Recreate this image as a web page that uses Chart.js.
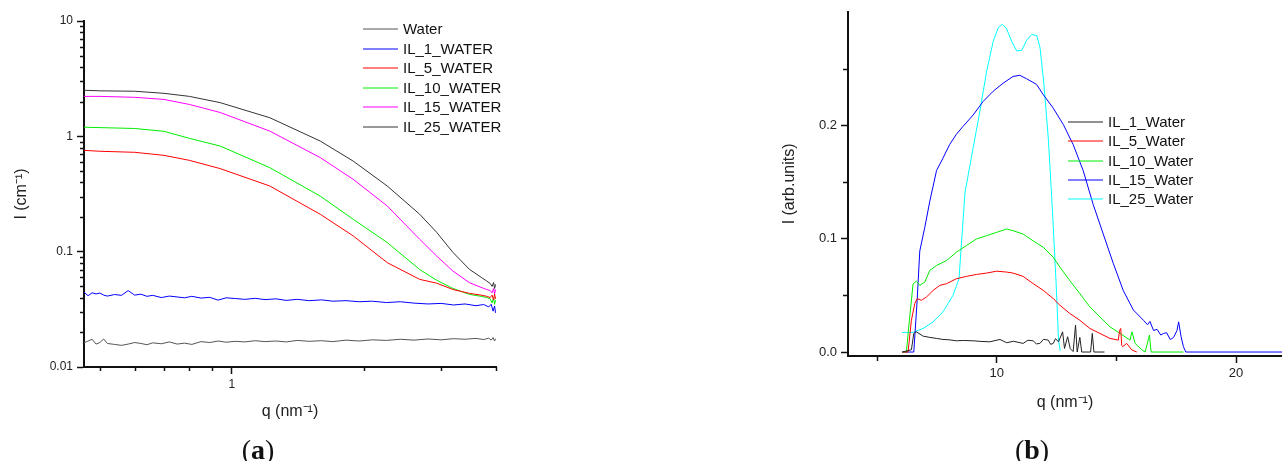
<!DOCTYPE html>
<html>
<head>
<meta charset="utf-8">
<script src="https://cdn.jsdelivr.net/npm/chart.js@4.4.1/dist/chart.umd.min.js"></script>
<style>
  body { margin: 0; width: 1282px; height: 461px; background: #fff; position: relative; overflow: hidden; }
  #boxA { position: absolute; left: 0; top: 0; }
  #boxB { position: absolute; left: 760px; top: 0; }
  .cap { position: absolute; top: 436px; width: 60px; text-align: center; font-family: 'Liberation Serif', 'Times New Roman', serif; font-size: 28px; line-height: 1; color: #111; }
  .cap b { font-weight: bold; }
</style>
</head>
<body>
<div id="boxA"><canvas id="saxsChart" width="520" height="461"></canvas></div>
<div id="boxB"><canvas id="waxsChart" width="522" height="461"></canvas></div>
<div class="cap" style="left:228px">(<b>a</b>)</div>
<div class="cap" style="left:1002px">(<b>b</b>)</div>
<script>
// ---- (a) SAXS, log-log ----
const qSaxs = [0.46, 0.5, 0.6, 0.7, 0.8, 0.94, 1.22, 1.59, 1.89, 2.26, 2.68, 2.93, 3.19, 3.48, 3.7, 3.81, 3.88, 3.92, 3.95, 3.97, 3.99];
const il25Saxs = [2.51, 2.48, 2.46, 2.36, 2.22, 1.96, 1.45, 0.91, 0.61, 0.371, 0.211, 0.147, 0.0986, 0.0702, 0.060, 0.0556, 0.053, 0.050, 0.054, 0.048, 0.052];
const il15Saxs = [2.22, 2.22, 2.18, 2.09, 1.89, 1.61, 1.11, 0.654, 0.424, 0.249, 0.128, 0.0916, 0.0679, 0.0538, 0.049, 0.047, 0.046, 0.044, 0.048, 0.043, 0.047];
const il10Saxs = [1.20, 1.19, 1.17, 1.105, 0.961, 0.824, 0.535, 0.303, 0.191, 0.120, 0.070, 0.0565, 0.048, 0.0426, 0.041, 0.040, 0.039, 0.036, 0.040, 0.035, 0.038];
const il5Saxs = [0.756, 0.742, 0.727, 0.684, 0.619, 0.525, 0.371, 0.211, 0.137, 0.0803, 0.0575, 0.0533, 0.047, 0.0435, 0.042, 0.041, 0.040, 0.042, 0.038, 0.043, 0.039];

const qFlat = [0.46, 0.47, 0.48, 0.49, 0.5, 0.51, 0.52, 0.54, 0.56, 0.58, 0.6, 0.62, 0.64, 0.66, 0.69, 0.72, 0.75, 0.78, 0.81, 0.85, 0.89, 0.93, 0.97, 1.02, 1.07, 1.13, 1.19, 1.26, 1.33, 1.41, 1.5, 1.6, 1.7, 1.82, 1.95, 2.09, 2.25, 2.42, 2.6, 2.8, 3.0, 3.2, 3.4, 3.6, 3.75, 3.85, 3.9, 3.94, 3.97, 3.99];
const il1Saxs = [0.0445, 0.0415, 0.0440, 0.0430, 0.0438, 0.0420, 0.0412, 0.0425, 0.0418, 0.0460, 0.0420, 0.0428, 0.0410, 0.0418, 0.0400, 0.0412, 0.0405, 0.0398, 0.0410, 0.0396, 0.0402, 0.0380, 0.0398, 0.0392, 0.0386, 0.0394, 0.0384, 0.0390, 0.0378, 0.0386, 0.0376, 0.0382, 0.0372, 0.0376, 0.0368, 0.0372, 0.0362, 0.0368, 0.0358, 0.0352, 0.0356, 0.0345, 0.0352, 0.0340, 0.0348, 0.0332, 0.0350, 0.0305, 0.0338, 0.0295];
const waterSaxs = [0.0162, 0.0168, 0.0174, 0.0158, 0.0163, 0.0175, 0.0160, 0.0157, 0.0154, 0.0158, 0.0163, 0.0160, 0.0156, 0.0162, 0.0159, 0.0165, 0.0158, 0.0161, 0.0157, 0.0166, 0.0163, 0.0168, 0.0164, 0.0167, 0.0165, 0.0169, 0.0166, 0.0168, 0.0165, 0.0170, 0.0167, 0.0169, 0.0166, 0.0171, 0.0168, 0.0172, 0.0170, 0.0174, 0.0171, 0.0175, 0.0172, 0.0176, 0.0174, 0.0177, 0.0173, 0.0178, 0.0171, 0.0180, 0.0168, 0.0176];

const saxsXMajor = [1];
const saxsXMinor = [0.5, 0.6, 0.7, 0.8, 0.9, 2, 3, 4];
const saxsYMajor = [0.01, 0.1, 1, 10];
const saxsYMinor = [0.02, 0.03, 0.04, 0.05, 0.06, 0.07, 0.08, 0.09, 0.2, 0.3, 0.4, 0.5, 0.6, 0.7, 0.8, 0.9, 2, 3, 4, 5, 6, 7, 8, 9];

// ---- (b) WAXS, linear ----
const qIl1W = [6.05, 6.43, 6.53, 6.64, 6.92, 7.2, 7.48, 7.75, 8.0, 8.31, 8.6, 9.01, 9.3, 9.71, 10.13, 10.41, 10.7, 11.1, 11.3, 11.52, 11.65, 11.8, 11.95, 12.15, 12.25, 12.36, 12.45, 12.58, 12.75, 12.83, 12.96, 13.07, 13.19, 13.29, 13.36, 13.47, 13.55, 13.92, 13.99, 14.06, 14.5];
const il1W = [0, 0.002, 0.0164, 0.0178, 0.014, 0.0129, 0.012, 0.0111, 0.0108, 0.0099, 0.0102, 0.0099, 0.0094, 0.009, 0.0111, 0.0082, 0.0095, 0.0076, 0.0104, 0.0099, 0.0072, 0.0076, 0.0112, 0.0105, 0.0068, 0.0076, 0.0118, 0.009, 0.0178, 0.0032, 0.0135, 0.003, 0.0004, 0.0237, 0, 0.0129, 0, 0, 0.0164, 0, 0];
const qIl5W = [6.05, 6.29, 6.43, 6.57, 6.67, 6.85, 7.06, 7.34, 7.62, 7.9, 8.31, 8.73, 9.15, 9.57, 9.99, 10.41, 10.68, 11.1, 11.52, 11.94, 12.36, 12.64, 13.05, 13.47, 13.89, 14.31, 14.73, 15.08, 15.13, 15.18, 15.22, 15.26, 15.43, 15.64, 15.85];
const il5W = [0, 0, 0.028, 0.0427, 0.0471, 0.0456, 0.0485, 0.0544, 0.0588, 0.0603, 0.0646, 0.0667, 0.0684, 0.0696, 0.0713, 0.0705, 0.0696, 0.0667, 0.0603, 0.0544, 0.0471, 0.0412, 0.034, 0.028, 0.0208, 0.0164, 0.012, 0.0105, 0.019, 0.0208, 0.006, 0.0047, 0.0076, 0.0018, 0];
const qIl10W = [6.05, 6.22, 6.36, 6.5, 6.64, 6.78, 6.99, 7.2, 7.48, 7.9, 8.31, 8.73, 9.15, 9.57, 9.99, 10.41, 10.68, 11.1, 11.52, 11.94, 12.36, 12.64, 13.05, 13.47, 13.89, 14.31, 14.73, 15.15, 15.57, 15.65, 15.78, 16.06, 16.2, 16.38, 16.45, 17.8];
const il10W = [0, 0, 0.031, 0.060, 0.0626, 0.0588, 0.0617, 0.072, 0.0763, 0.0807, 0.088, 0.0939, 0.0997, 0.1026, 0.1055, 0.1085, 0.107, 0.104, 0.098, 0.0924, 0.0836, 0.0748, 0.063, 0.0515, 0.0398, 0.031, 0.0222, 0.0164, 0.0105, 0.0178, 0.0076, 0.002, 0, 0.015, 0, 0];
const qIl15W = [6.05, 6.53, 6.67, 6.78, 6.99, 7.2, 7.48, 7.75, 8.03, 8.31, 8.59, 9.01, 9.43, 9.85, 10.26, 10.68, 10.96, 11.24, 11.66, 11.94, 12.36, 12.78, 13.19, 13.61, 14.03, 14.45, 14.87, 15.29, 15.71, 16.13, 16.3, 16.4, 16.55, 16.7, 16.85, 16.97, 17.1, 17.25, 17.39, 17.53, 17.6, 17.7, 17.8, 17.9, 18.0, 20, 22];
const il15W = [0, 0, 0.0456, 0.089, 0.110, 0.133, 0.160, 0.171, 0.183, 0.192, 0.199, 0.209, 0.221, 0.230, 0.237, 0.243, 0.244, 0.241, 0.236, 0.227, 0.215, 0.2006, 0.183, 0.160, 0.130, 0.104, 0.078, 0.054, 0.037, 0.028, 0.024, 0.027, 0.019, 0.020, 0.015, 0.0164, 0.017, 0.011, 0.0129, 0.019, 0.0266, 0.0137, 0.0047, 0, 0, 0, 0];
const qIl25W = [6.05, 6.5, 6.92, 7.34, 7.75, 8.17, 8.42, 8.67, 9.01, 9.29, 9.57, 9.85, 10.06, 10.23, 10.41, 10.62, 10.83, 11.04, 11.25, 11.46, 11.67, 11.81, 11.97, 12.16, 12.34, 12.48, 12.58, 12.65];
const il25W = [0.0173, 0.0173, 0.0208, 0.0266, 0.0354, 0.050, 0.0646, 0.1406, 0.180, 0.212, 0.247, 0.274, 0.286, 0.289, 0.285, 0.274, 0.2655, 0.266, 0.275, 0.280, 0.279, 0.268, 0.236, 0.186, 0.119, 0.060, 0.0105, 0.001];

const waxsXMajor = [10, 20];
const waxsXMinor = [5, 15];
const waxsYMajor = [0, 0.1, 0.2];
const waxsYMinor = [0.05, 0.15, 0.25];

Chart.defaults.font.family = "'Liberation Sans', Arial, sans-serif";
Chart.defaults.color = '#222';

function pts(xs, ys) {
  return xs.map((x, i) => ({ x: x, y: ys[i] }));
}

function line(label, xs, ys, color) {
  return { label: label, data: pts(xs, ys), borderColor: color, borderWidth: 1, pointRadius: 0, tension: 0, fill: false };
}

// short unlabeled ticks
function minorTicks(lists, len) {
  return {
    id: 'minorTicks',
    afterDraw(chart) {
      const ctx = chart.ctx;
      ctx.save();
      ctx.strokeStyle = '#111';
      ctx.lineWidth = 1.5;
      Object.keys(lists).forEach(id => {
        const s = chart.scales[id];
        lists[id].forEach(v => {
          const p = Math.round(s.getPixelForValue(v)) + 0.5;
          ctx.beginPath();
          if (s.isHorizontal()) { ctx.moveTo(p, s.top); ctx.lineTo(p, s.top + len); }
          else { ctx.moveTo(s.right, p); ctx.lineTo(s.right - len, p); }
          ctx.stroke();
        });
      });
      ctx.restore();
    }
  };
}

// legend drawn inside the plot
function keyBox(x, y, step) {
  return {
    id: 'keyBox',
    afterDraw(chart) {
      const ctx = chart.ctx;
      ctx.save();
      ctx.font = "15px 'Liberation Sans', Arial, sans-serif";
      ctx.textBaseline = 'middle';
      chart.data.datasets.forEach((ds, i) => {
        const yy = Math.round(y + i * step);
        ctx.strokeStyle = ds.borderColor;
        ctx.lineWidth = 1;
        ctx.beginPath();
        ctx.moveTo(x, yy);
        ctx.lineTo(x + 35, yy);
        ctx.stroke();
        ctx.fillStyle = '#111';
        ctx.fillText(ds.label, x + 40, yy + 0.5);
      });
      ctx.restore();
    }
  };
}

function axis(extra) {
  return Object.assign({
    grid: { drawOnChartArea: false, tickLength: 7, tickWidth: 1.5, tickColor: '#111' },
    border: { color: '#111', width: 2 }
  }, extra);
}

new Chart(document.getElementById('saxsChart'), {
  type: 'line',
  data: {
    datasets: [
      line('Water', qFlat, waterSaxs, '#555555'),
      line('IL_1_WATER', qFlat, il1Saxs, '#0000ff'),
      line('IL_5_WATER', qSaxs, il5Saxs, '#ff0000'),
      line('IL_10_WATER', qSaxs, il10Saxs, '#00ee00'),
      line('IL_15_WATER', qSaxs, il15Saxs, '#ff00ff'),
      line('IL_25_WATER', qSaxs, il25Saxs, '#333333')
    ]
  },
  options: {
    responsive: false,
    animation: false,
    layout: { padding: { top: 21, right: 24, left: 0, bottom: 0 } },
    plugins: { legend: { display: false }, tooltip: { enabled: false } },
    scales: {
      x: axis({
        type: 'logarithmic', min: 0.46, max: 4,
        afterBuildTicks: s => { s.ticks = saxsXMajor.map(v => ({ value: v })); },
        afterFit: s => { s.height = 94; },
        ticks: { callback: v => String(v), font: { size: 12 }, padding: 3, maxRotation: 0, autoSkip: false },
        title: { display: true, text: 'q (nm⁻¹)', font: { size: 16 }, padding: { top: 0, bottom: 40 } }
      }),
      y: axis({
        type: 'logarithmic', min: 0.01, max: 10,
        afterBuildTicks: s => { s.ticks = saxsYMajor.map(v => ({ value: v })); },
        afterFit: s => { s.width = 84; },
        ticks: { callback: v => String(v), font: { size: 12 }, padding: 4, autoSkip: false },
        title: { display: true, text: 'I (cm⁻¹)', font: { size: 16 }, padding: { top: 12, bottom: 0 } }
      })
    }
  },
  plugins: [minorTicks({ x: saxsXMinor, y: saxsYMinor }, 4), keyBox(363, 29, 19.5)]
});

new Chart(document.getElementById('waxsChart'), {
  type: 'line',
  data: {
    datasets: [
      line('IL_1_Water', qIl1W, il1W, '#222222'),
      line('IL_5_Water', qIl5W, il5W, '#ff0000'),
      line('IL_10_Water', qIl10W, il10W, '#00ee00'),
      line('IL_15_Water', qIl15W, il15W, '#0000ff'),
      line('IL_25_Water', qIl25W, il25W, '#00ffff')
    ]
  },
  options: {
    responsive: false,
    animation: false,
    layout: { padding: { top: 10, right: 0, left: 0, bottom: 0 } },
    plugins: { legend: { display: false }, tooltip: { enabled: false } },
    scales: {
      x: axis({
        type: 'linear', min: 3.78, max: 21.92,
        afterBuildTicks: s => { s.ticks = waxsXMajor.map(v => ({ value: v })); },
        afterFit: s => { s.height = 105; },
        ticks: { callback: v => String(v), font: { size: 13 }, padding: 3, maxRotation: 0, autoSkip: false },
        title: { display: true, text: 'q (nm⁻¹)', font: { size: 16 }, padding: { top: 0, bottom: 49 } }
      }),
      y: axis({
        type: 'linear', min: -0.0035, max: 0.3,
        afterBuildTicks: s => { s.ticks = waxsYMajor.map(v => ({ value: v })); },
        afterFit: s => { s.width = 88; },
        ticks: { callback: v => v.toFixed(1), font: { size: 13 }, padding: 4, autoSkip: false },
        title: { display: true, text: 'I (arb.units)', font: { size: 16 }, padding: { top: 20, bottom: 0 } }
      })
    }
  },
  plugins: [minorTicks({ x: waxsXMinor, y: waxsYMinor }, 5), keyBox(308, 122, 19.3)]
});
</script>
</body>
</html>
